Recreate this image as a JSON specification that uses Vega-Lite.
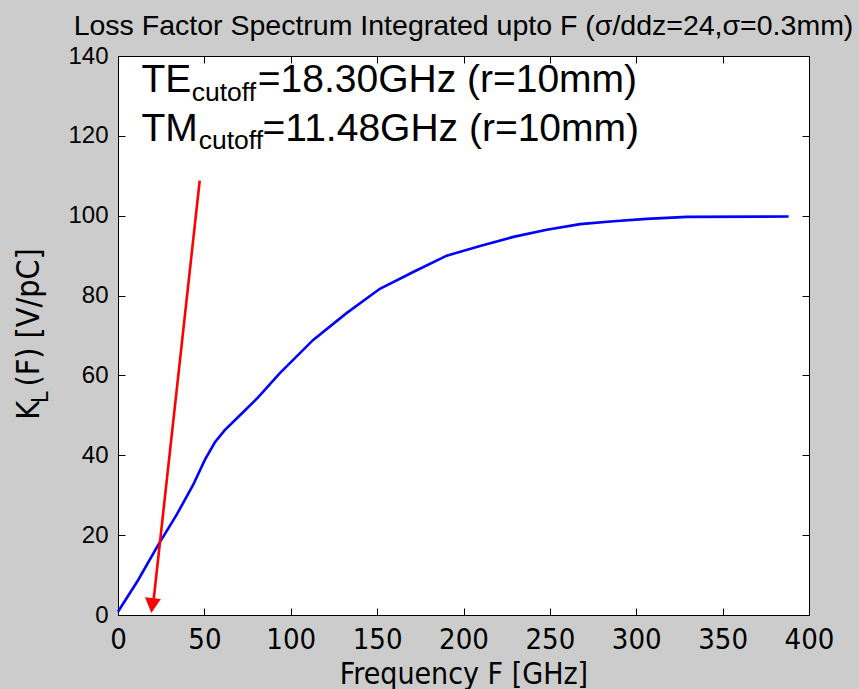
{
  "$schema": "https://vega.github.io/schema/vega-lite/v6.json",
  "width": 691,
  "height": 559,
  "autosize": "none",
  "padding": {"left": 118, "top": 56, "right": 50, "bottom": 74},
  "background": "#cccccc",
  "config": {
    "view": {"stroke": "black", "strokeWidth": 1, "fill": "white"},
    "axis": {"grid": false, "domain": false, "tickColor": "black", "labelColor": "black", "titleColor": "black"}
  },
  "title": {
    "text": "Loss Factor Spectrum Integrated upto F (σ/ddz=24,σ=0.3mm)",
    "font": "Liberation Sans",
    "fontSize": 28.5,
    "fontWeight": "normal",
    "color": "black",
    "anchor": "middle",
    "frame": "group",
    "offset": 4
  },
  "datasets": {
    "curve": [
      {"f": 0, "k": 0.8},
      {"f": 11.6, "k": 8.7},
      {"f": 23.2, "k": 17.5},
      {"f": 33.8, "k": 25.0},
      {"f": 43.4, "k": 32.5},
      {"f": 50.2, "k": 38.8},
      {"f": 56.0, "k": 43.2},
      {"f": 61.8, "k": 46.3},
      {"f": 71.5, "k": 50.4},
      {"f": 81.1, "k": 54.5},
      {"f": 93.7, "k": 60.6},
      {"f": 113.0, "k": 68.9},
      {"f": 132.3, "k": 75.6},
      {"f": 151.6, "k": 81.7},
      {"f": 170.9, "k": 85.9},
      {"f": 190.3, "k": 90.0},
      {"f": 209.6, "k": 92.4},
      {"f": 228.9, "k": 94.7},
      {"f": 248.2, "k": 96.5},
      {"f": 267.5, "k": 97.9},
      {"f": 286.8, "k": 98.6},
      {"f": 306.1, "k": 99.2},
      {"f": 329.3, "k": 99.7},
      {"f": 388.2, "k": 99.8}
    ],
    "arrow": [
      {"f": 47.3, "k": 108.8},
      {"f": 20.7, "k": 4.1}
    ],
    "arrowhead": [
      {"f": 19.3, "k": 0.5}
    ],
    "noteMain": [
      {"f": 13.6, "k": 131.0, "txt": "TE"},
      {"f": 80.9, "k": 131.0, "txt": "=18.30GHz (r=10mm)"},
      {"f": 13.6, "k": 118.7, "txt": "TM"},
      {"f": 83.7, "k": 118.7, "txt": "=11.48GHz (r=10mm)"}
    ],
    "noteSub": [
      {"f": 42.7, "k": 128.7, "txt": "cutoff"},
      {"f": 46.7, "k": 116.8, "txt": "cutoff"}
    ],
    "yTitle": [
      {"f": -45.5, "k": 48.9, "txt": "K"},
      {"f": -45.5, "k": 57.2, "txt": "(F) [V/pC]"}
    ],
    "yTitleSub": [
      {"f": -40.6, "k": 53.1, "txt": "L"}
    ]
  },
  "resolve": {"axis": {"x": "independent", "y": "independent"}},
  "layer": [
    {
      "data": {"name": "curve"},
      "mark": {"type": "line", "color": "#0000ff", "strokeWidth": 2.6},
      "encoding": {
        "x": {
          "field": "f", "type": "quantitative",
          "scale": {"domain": [0, 400], "nice": false, "zero": false},
          "axis": {
            "orient": "bottom",
            "values": [0, 50, 100, 150, 200, 250, 300, 350, 400],
            "tickSize": -7,
            "labelPadding": 17,
            "labelFont": "Liberation Sans Narrow, Arial Narrow, Noto Sans Condensed, DejaVu Sans Condensed, Liberation Sans",
            "labelFontSize": 29,
            "labelFlush": false,
            "labelOverlap": false,
            "title": "Frequency F [GHz]",
            "titleFont": "Liberation Sans Narrow, Arial Narrow, Noto Sans Condensed, DejaVu Sans Condensed, Liberation Sans",
            "titleFontSize": 30,
            "titleFontWeight": "normal",
            "titlePadding": 5
          }
        },
        "y": {
          "field": "k", "type": "quantitative",
          "scale": {"domain": [0, 140], "nice": false, "zero": false},
          "axis": {
            "orient": "left",
            "values": [0, 20, 40, 60, 80, 100, 120, 140],
            "tickSize": -7,
            "labelPadding": 17,
            "labelFont": "Liberation Sans",
            "labelFontSize": 24,
            "labelFlush": false,
            "labelOverlap": false,
            "title": null
          }
        }
      }
    },
    {
      "data": {"name": "arrow"},
      "mark": {"type": "line", "color": "#ff0000", "strokeWidth": 2.6},
      "encoding": {
        "x": {
          "field": "f", "type": "quantitative",
          "axis": {
            "orient": "top",
            "values": [0, 50, 100, 150, 200, 250, 300, 350, 400],
            "tickSize": -7,
            "labels": false,
            "title": null
          }
        },
        "y": {
          "field": "k", "type": "quantitative",
          "axis": {
            "orient": "right",
            "values": [0, 20, 40, 60, 80, 100, 120, 140],
            "tickSize": -7,
            "labels": false,
            "title": null
          }
        }
      }
    },
    {
      "data": {"name": "arrowhead"},
      "mark": {"type": "point", "shape": "M-0.5,-0.94L0.5,-0.94L0,0Z", "size": 1024, "angle": 6, "filled": true, "color": "#ff0000", "opacity": 1},
      "encoding": {
        "x": {"field": "f", "type": "quantitative", "axis": null},
        "y": {"field": "k", "type": "quantitative", "axis": null}
      }
    },
    {
      "data": {"name": "noteMain"},
      "mark": {"type": "text", "align": "left", "baseline": "alphabetic", "font": "Liberation Sans", "fontSize": 39, "color": "black"},
      "encoding": {
        "x": {"field": "f", "type": "quantitative", "axis": null},
        "y": {"field": "k", "type": "quantitative", "axis": null},
        "text": {"field": "txt"}
      }
    },
    {
      "data": {"name": "noteSub"},
      "mark": {"type": "text", "align": "left", "baseline": "alphabetic", "font": "Liberation Sans", "fontSize": 26.5, "color": "black"},
      "encoding": {
        "x": {"field": "f", "type": "quantitative", "axis": null},
        "y": {"field": "k", "type": "quantitative", "axis": null},
        "text": {"field": "txt"}
      }
    },
    {
      "data": {"name": "yTitle"},
      "mark": {"type": "text", "align": "left", "baseline": "alphabetic", "angle": 270, "font": "Liberation Sans Narrow, Arial Narrow, Noto Sans Condensed, DejaVu Sans Condensed, Liberation Sans", "fontSize": 32, "color": "black"},
      "encoding": {
        "x": {"field": "f", "type": "quantitative", "axis": null},
        "y": {"field": "k", "type": "quantitative", "axis": null},
        "text": {"field": "txt"}
      }
    },
    {
      "data": {"name": "yTitleSub"},
      "mark": {"type": "text", "align": "left", "baseline": "alphabetic", "angle": 270, "font": "Liberation Sans Narrow, Arial Narrow, Noto Sans Condensed, DejaVu Sans Condensed, Liberation Sans", "fontSize": 23, "color": "black"},
      "encoding": {
        "x": {"field": "f", "type": "quantitative", "axis": null},
        "y": {"field": "k", "type": "quantitative", "axis": null},
        "text": {"field": "txt"}
      }
    }
  ]
}
